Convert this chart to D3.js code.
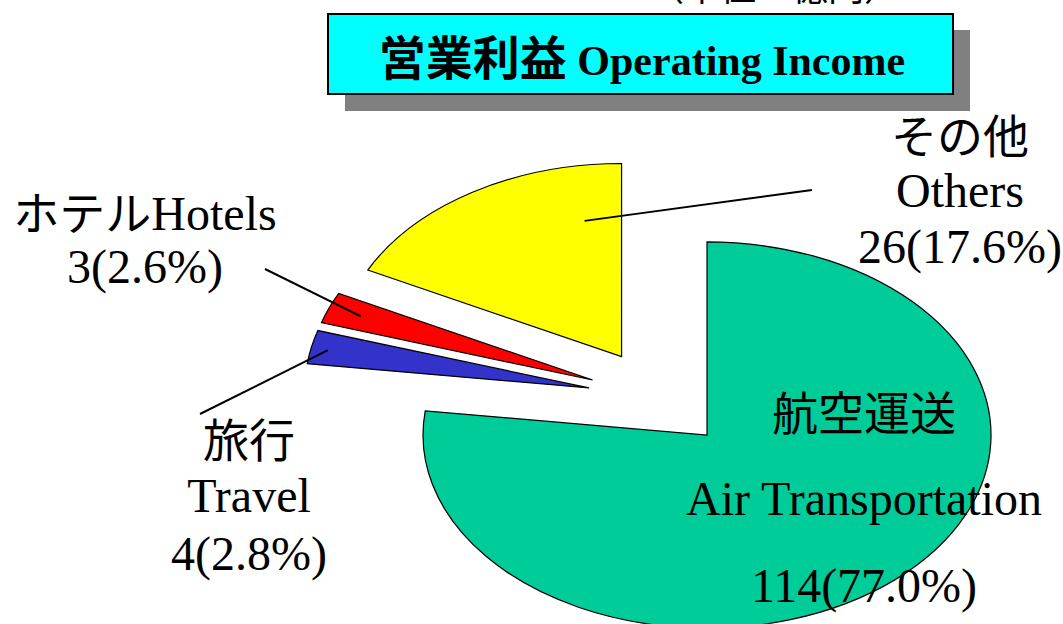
<!DOCTYPE html>
<html>
<head>
<meta charset="utf-8">
<script src="https://cdn.jsdelivr.net/npm/d3@7"></script>
<style>
  body { margin: 0; background: #fff; }
  svg { display: block; }
</style>
</head>
<body>
<svg width="1063" height="624"></svg>
<script>
// data
var categoriesJa = ["航空運送", "旅行", "ホテル", "その他"];
var categoriesEn = ["Air Transportation", "Travel", "Hotels", "Others"];
var values = [114, 4, 3, 26];          // 億円
var shares = [77.0, 2.8, 2.6, 17.6];   // %
var colors = ["#00CC99", "#3333CC", "#FF0000", "#FFFF00"];

var svg = d3.select("svg");

var jaFont = "'Noto Sans CJK JP', 'Noto Sans', sans-serif";
var enFont = "'Liberation Serif', 'Times New Roman', serif";

// unit note (cut off at the top, as in the original)
svg.append("text")
  .attr("x", 900).attr("y", 1)
  .attr("text-anchor", "end")
  .style("font-family", jaFont)
  .style("font-size", "36px")
  .text("（単位：億円）");

// title box with shadow
svg.append("rect")
  .attr("x", 345).attr("y", 30)
  .attr("width", 625).attr("height", 81)
  .style("fill", "#808080");

svg.append("rect")
  .attr("x", 328).attr("y", 14)
  .attr("width", 625).attr("height", 80)
  .style("fill", "#00FFFF")
  .style("stroke", "#000")
  .style("stroke-width", 2);

var title = svg.append("text")
  .attr("x", 642).attr("y", 75)
  .attr("text-anchor", "middle")
  .style("font-weight", "bold");
title.append("tspan")
  .style("font-family", jaFont)
  .style("font-size", "47px")
  .text("営業利益");
title.append("tspan")
  .style("font-family", enFont)
  .style("font-size", "42px")
  .text(" Operating Income");

// pie: circle pie squashed vertically, every slice pulled out
var cx = 659.4, cy = 398.3;
var radius = 284;
var squash = 0.68;
var explode = 72;

var pie = d3.pie().sort(null).value(function(d) { return d; });
var arcs = pie(shares);

var arc = d3.arc().innerRadius(0).outerRadius(radius);

var pieG = svg.append("g")
  .attr("transform", "translate(" + cx + "," + cy + ") scale(1," + squash + ")");

function mid(d) { return (d.startAngle + d.endAngle) / 2; }

pieG.selectAll("path.slice")
  .data(arcs)
  .enter().append("path")
  .attr("class", "slice")
  .attr("transform", function(d) {
    var a = mid(d);
    return "translate(" + (explode * Math.sin(a)) + "," + (-explode * Math.cos(a)) + ")";
  })
  .attr("d", arc)
  .style("fill", function(d, i) { return colors[i]; })
  .style("stroke", "#000")
  .style("stroke-width", 1.2)
  .attr("vector-effect", "non-scaling-stroke");

// point on a slice (angle in degrees, fraction of radius) -> page coords
function slicePoint(i, deg, frac) {
  var a = mid(arcs[i]);
  var t = deg * Math.PI / 180;
  var px = explode * Math.sin(a) + frac * radius * Math.sin(t);
  var py = -explode * Math.cos(a) - frac * radius * Math.cos(t);
  return [cx + px, cy + py * squash];
}

// labels
var labelLayout = [
  { x: 864, lines: [[categoriesJa[0], "ja", 430], [categoriesEn[0], "en", 515], ["value", "en", 602]] },
  { x: 249, lines: [[categoriesJa[1], "ja", 457], [categoriesEn[1], "en", 512], ["value", "en", 570]] },
  { x: 145, lines: [[categoriesJa[2] + "|" + categoriesEn[2], "mix", 230], ["value", "en", 283]] },
  { x: 960, lines: [[categoriesJa[3], "ja", 153], [categoriesEn[3], "en", 207], ["value", "en", 263]] }
];

labelLayout.forEach(function(lay, i) {
  lay.lines.forEach(function(ln) {
    var t = svg.append("text")
      .attr("x", lay.x).attr("y", ln[2])
      .attr("text-anchor", "middle")
      .style("fill", "#000");
    if (ln[0] === "value") {
      t.style("font-family", enFont).style("font-size", "48px")
        .text(values[i] + "(" + shares[i].toFixed(1) + "%)");
    } else if (ln[1] === "ja") {
      t.style("font-family", jaFont).style("font-size", "46px").text(ln[0]);
    } else if (ln[1] === "en") {
      t.style("font-family", enFont).style("font-size", "48px").text(ln[0]);
    } else {
      var parts = ln[0].split("|");
      t.append("tspan").style("font-family", jaFont).style("font-size", "46px").text(parts[0]);
      t.append("tspan").style("font-family", enFont).style("font-size", "48px").text(parts[1]);
    }
  });
});

// leader lines: [slice index, angle deg, radius fraction, outer end]
var leaders = [
  [1, 282, 0.94, [200, 414]],
  [2, 292, 0.88, [265, 269]],
  [3, 349.5, 0.715, [812, 190]]
];

svg.selectAll("line.leader")
  .data(leaders)
  .enter().append("line")
  .attr("class", "leader")
  .attr("x1", function(d) { return d[3][0]; })
  .attr("y1", function(d) { return d[3][1]; })
  .attr("x2", function(d) { return slicePoint(d[0], d[1], d[2])[0]; })
  .attr("y2", function(d) { return slicePoint(d[0], d[1], d[2])[1]; })
  .style("stroke", "#000")
  .style("stroke-width", 2);
</script>
</body>
</html>
